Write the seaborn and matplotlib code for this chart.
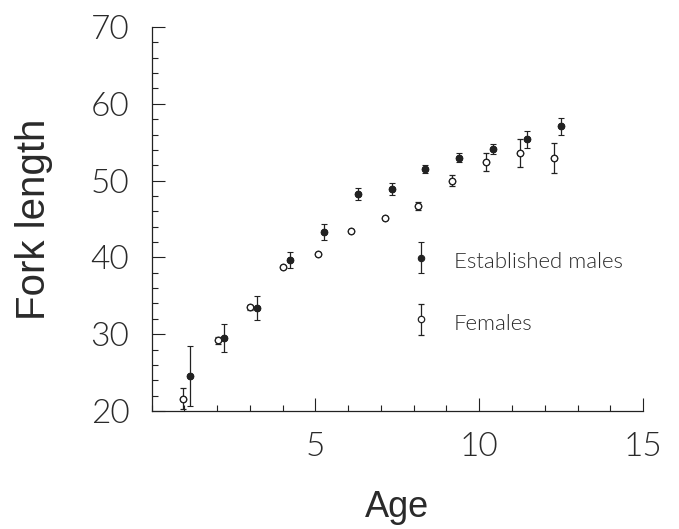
import matplotlib
matplotlib.use("Agg")
import matplotlib.pyplot as plt
from matplotlib import font_manager as fm
from matplotlib.ticker import FixedLocator, MultipleLocator
from matplotlib.legend_handler import HandlerErrorbar
import seaborn as sns
import pandas as pd

# Mean fork length by age, with error bars
female_age = [0.97, 2.02, 3.01, 4.02, 5.07, 6.10, 7.12, 8.12, 9.17, 10.21, 11.25, 12.28]
female_len = [21.6, 29.2, 33.5, 38.7, 40.4, 43.5, 45.1, 46.7, 50.0, 52.4, 53.6, 53.0]
female_err = [1.4, 0.5, 0.3, 0.0, 0.0, 0.0, 0.0, 0.5, 0.75, 1.15, 1.8, 1.95]

male_age = [1.18, 2.20, 3.21, 4.22, 5.27, 6.30, 7.33, 8.35, 9.37, 10.43, 11.45, 12.49]
male_len = [24.6, 29.5, 33.4, 39.7, 43.3, 48.3, 48.9, 51.5, 53.0, 54.1, 55.4, 57.1]
male_err = [3.9, 1.8, 1.6, 1.05, 1.0, 0.8, 0.75, 0.55, 0.6, 0.7, 1.1, 1.1]

x_major = [5, 10, 15]
y_major = [20, 30, 40, 50, 60, 70]

males = pd.DataFrame({"age": male_age, "length": male_len, "err": male_err})
females = pd.DataFrame({"age": female_age, "length": female_len, "err": female_err})

sns.set_theme(style="white")

# light face for numbers and legend, regular face for axis titles
light_family = "Liberation Sans"
light_weight = "normal"
for fam in ("Lato", "Open Sans", "Roboto", "Inter"):
    for f in fm.fontManager.ttflist:
        if f.name == fam and f.weight in (200, 300, "light", "extra-light"):
            light_family, light_weight = fam, 300
            break
    if light_weight == 300:
        break

plt.rcParams["font.family"] = [light_family, "DejaVu Sans"]
plt.rcParams["font.weight"] = light_weight
ink = "#222222"
txt = "#2a2a2a"
title_font = dict(family=["Liberation Sans", "DejaVu Sans"], weight="normal", color=txt)

fig = plt.figure(figsize=(6.79, 5.29), dpi=100)
ax = fig.add_axes([0.2234, 0.223, 0.7236, 0.726])

eb_kw = dict(ls="none", ecolor=ink, elinewidth=0.9, capsize=2.5, capthick=0.9)
male_eb = ax.errorbar(males["age"], males["length"], yerr=males["err"], fmt="o",
                      ms=4.6, mfc=ink, mec=ink, mew=0.8, zorder=3, **eb_kw)
female_eb = ax.errorbar(females["age"], females["length"], yerr=females["err"], fmt="o",
                        ms=4.6, mfc="white", mec=ink, mew=0.9, zorder=3, **eb_kw)

sns.scatterplot(data=males, x="age", y="length", ax=ax, color=ink, edgecolor=ink,
                linewidth=0.8, s=21, zorder=4, legend=False)
sns.scatterplot(data=females, x="age", y="length", ax=ax, color="white", edgecolor=ink,
                linewidth=0.9, s=21, zorder=4, legend=False)

ax.set_xlim(0, 15)
ax.set_ylim(20, 70)

ax.xaxis.set_major_locator(FixedLocator(x_major))
ax.xaxis.set_minor_locator(MultipleLocator(1))
ax.yaxis.set_major_locator(FixedLocator(y_major))
ax.yaxis.set_minor_locator(MultipleLocator(2))

for side in ("top", "right"):
    ax.spines[side].set_visible(False)
for side in ("left", "bottom"):
    ax.spines[side].set_color(ink)
    ax.spines[side].set_linewidth(0.9)

ax.tick_params(which="both", direction="in", color=ink, width=0.8,
               bottom=True, left=True, labelcolor=txt, labelsize=24)
ax.tick_params(which="major", length=9.5)
ax.tick_params(which="minor", length=4.5)
ax.tick_params(axis="x", which="major", pad=15)
ax.tick_params(axis="y", which="major", pad=16)

ax.set_xlabel("Age", fontsize=26, labelpad=20, **title_font)
ax.set_ylabel("Fork length", fontsize=29, labelpad=27, **title_font)

handler = HandlerErrorbar(xerr_size=0.3, yerr_size=0.7)
ax.legend([male_eb, female_eb], ["Established males", "Females"],
          handler_map={male_eb: handler, female_eb: handler},
          loc="center left", bbox_to_anchor=(0.6047, 0.4490),
          bbox_transform=fig.transFigure, frameon=False, fontsize=16,
          handlelength=0.95, handleheight=1.5, handletextpad=1.0,
          labelspacing=1.55, borderpad=0, borderaxespad=0, numpoints=1,
          labelcolor=txt)

fig.savefig("out.png", dpi=100, facecolor="white")
